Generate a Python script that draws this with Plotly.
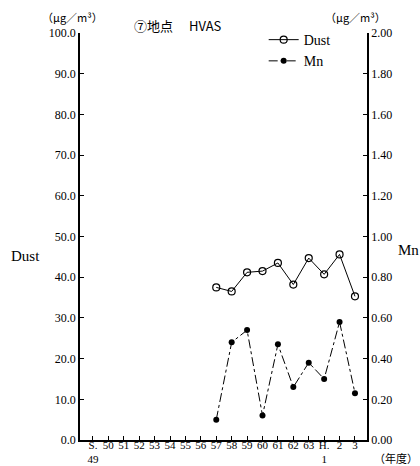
import plotly.graph_objects as go

years = ["S.<br>49", "50", "51", "52", "53", "54", "55", "56", "57", "58",
         "59", "60", "61", "62", "63", "H.<br>1", "2", "3"]
dust = [None, None, None, None, None, None, None, None,
        37.5, 36.5, 41.2, 41.5, 43.5, 38.2, 44.7, 40.7, 45.6, 35.3]
mn = [None, None, None, None, None, None, None, None,
      0.10, 0.48, 0.54, 0.12, 0.47, 0.26, 0.38, 0.30, 0.58, 0.23]

left_ticks = [i * 10 for i in range(11)]
right_ticks = [i * 0.2 for i in range(11)]

SERIF = "Liberation Serif"
JP = "Noto Sans CJK JP"

W, H = 420, 466
L, R, T, B = 80, 53, 33, 26
PW, PH = W - L - R, H - T - B


def px(x, y):
    return dict(xref="paper", yref="paper", x=(x - L) / PW, y=1 - (y - T) / PH,
                xanchor="center", yanchor="middle")


fig = go.Figure()
fig.add_trace(go.Scatter(
    x=years, y=dust, name="Dust", mode="lines+markers",
    line=dict(color="black", width=1),
    marker=dict(symbol="circle-open", size=7, color="black", line=dict(width=1.2)),
    yaxis="y",
))
fig.add_trace(go.Scatter(
    x=years, y=mn, name="Mn", mode="lines+markers",
    line=dict(color="black", width=1, dash="dashdot"),
    marker=dict(symbol="circle", size=6, color="black"),
    yaxis="y2",
))

axis_common = dict(
    showline=True, linecolor="black", linewidth=1.5,
    ticks="inside", ticklen=4, tickcolor="black",
    showgrid=False, zeroline=False, automargin=False,
    tickfont=dict(size=12, family=SERIF, color="black"),
)

fig.update_layout(
    width=W, height=H,
    margin=dict(l=L, r=R, t=T, b=B),
    paper_bgcolor="white", plot_bgcolor="white",
    font=dict(family=SERIF, size=12, color="black"),
    showlegend=True,
    legend=dict(x=0.64, y=1.022, xanchor="left", yanchor="top",
                bgcolor="rgba(0,0,0,0)", font=dict(size=14, family=SERIF, color="black"),
                itemwidth=30, tracegroupgap=0),
    xaxis=dict(type="category", range=[-0.84, 17.78], tickangle=0,
               ticklabelstandoff=-6,
               **{**axis_common, "tickfont": dict(size=11, family=SERIF, color="black")}),
    yaxis=dict(range=[0, 100], tickvals=left_ticks, tickformat=".1f", **axis_common),
    yaxis2=dict(range=[0, 2], tickvals=right_ticks, tickformat=".2f",
                overlaying="y", side="right", **axis_common),
)

anns = [
    ("（μg／m³）", 72, 17, 11, JP),
    ("（μg／m³）", 355, 17, 11, JP),
    ("⑦地点　 HVAS", 178, 25, 13, JP),
    ("Dust", 25, 256, 15, SERIF),
    ("Mn", 408, 250, 15, SERIF),
    ("（年度）", 396, 458, 11, JP),
]
for text, x, y, size, fam in anns:
    fig.add_annotation(text=text, showarrow=False,
                       font=dict(size=size, family=fam, color="black"), **px(x, y))

fig.write_html("out.html")
